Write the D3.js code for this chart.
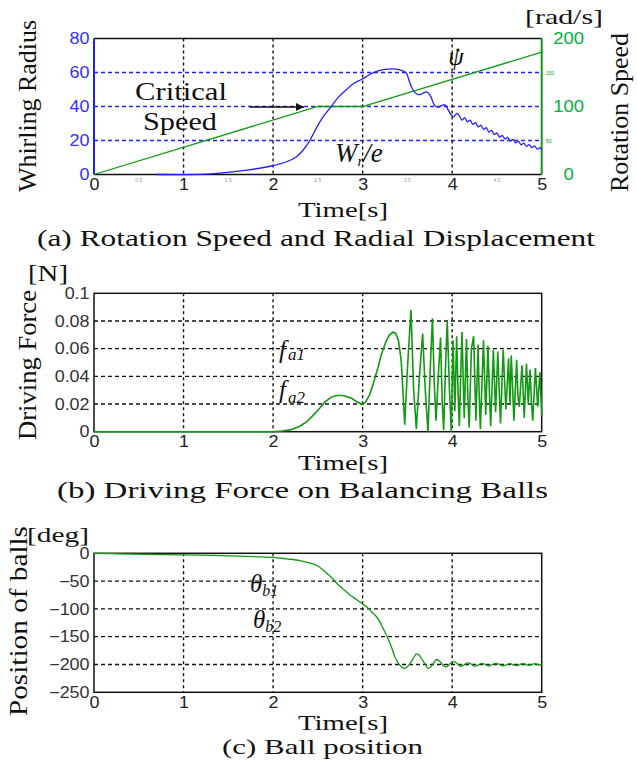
<!DOCTYPE html>
<html>
<head>
<meta charset="utf-8">
<script src="https://cdn.jsdelivr.net/npm/d3@7"></script>
<style>
  body { margin: 0; background: #fff; }
  svg text { font-family: "Liberation Serif", "Times New Roman", Times, serif; }
  .tick text { font-family: "Liberation Sans", Arial, Helvetica, sans-serif; font-size: 16px; }
</style>
</head>
<body>
<div id="chart"></div>
<script>
// tick values
var timeTicks = [0, 1, 2, 3, 4, 5];
var halfTicks = [0.5, 1.5, 2.5, 3.5, 4.5];
var radiusTicks = [0, 20, 40, 60, 80];
var speedTicks = [0, 100, 200];
var speedMinor = [50, 150];
var forceTicks = [0, 0.02, 0.04, 0.06, 0.08, 0.1];
var angleTicks = [0, -50, -100, -150, -200, -250];

// (a) rotation speed [rad/s]
var speedData = [[0, 0], [2.5, 100], [3, 100], [5, 180]];

// (a) whirling radius
var radiusData = [
  [0.70, 0], [1.26, 0.2], [1.48, 1.2], [1.71, 2.6], [1.98, 5], [2.15, 7.5], [2.25, 10],
  [2.33, 14], [2.40, 19], [2.48, 27], [2.56, 34], [2.65, 40], [2.73, 45.5], [2.82, 50],
  [2.90, 53.5], [2.99, 56], [3.07, 58.5], [3.15, 60.5], [3.22, 61.5], [3.29, 62], [3.37, 62],
  [3.45, 61], [3.49, 59.5], [3.52, 55], [3.56, 50], [3.60, 47.5], [3.64, 47], [3.68, 48],
  [3.72, 48.5], [3.76, 46], [3.80, 41], [3.84, 39.5], [3.88, 40.5], [3.92, 41], [3.95, 38.5],
  [3.99, 35], [4.02, 34], [4.05, 36], [4.08, 34.5], [4.11, 32], [4.14, 33.5], [4.17, 31],
  [4.20, 32], [4.23, 29.5], [4.26, 30.5], [4.29, 28], [4.32, 29], [4.35, 26.5], [4.38, 27.5],
  [4.41, 25], [4.44, 26], [4.47, 23.5], [4.50, 24.5], [4.53, 22], [4.56, 23], [4.59, 20.8],
  [4.62, 21.8], [4.65, 19.6], [4.68, 20.6], [4.71, 18.6], [4.74, 19.5], [4.77, 17.5],
  [4.80, 18.4], [4.83, 16.6], [4.86, 17.6], [4.89, 15.8], [4.92, 16.8], [4.95, 14.9],
  [4.98, 15.8], [5.0, 14.6]
];

// (b) driving force [N]
var forceData = [
  [0, 0], [2.0, 0], [2.1, 0.0005], [2.2, 0.0015], [2.3, 0.004], [2.38, 0.0075], [2.45, 0.012],
  [2.52, 0.017], [2.58, 0.0215], [2.65, 0.025], [2.71, 0.0262], [2.77, 0.0262], [2.82, 0.0255],
  [2.88, 0.024], [2.94, 0.0215], [2.99, 0.020], [3.03, 0.021], [3.08, 0.027], [3.12, 0.035],
  [3.17, 0.046], [3.21, 0.056], [3.26, 0.065], [3.30, 0.070], [3.34, 0.072], [3.37, 0.071],
  [3.40, 0.066], [3.43, 0.052], [3.45, 0.030], [3.47, 0.005], [3.50, 0.045], [3.54, 0.088],
  [3.57, 0.030], [3.60, 0.002], [3.635, 0.040], [3.67, 0.071], [3.70, 0.030], [3.73, 0.000],
  [3.755, 0.045], [3.78, 0.082], [3.80, 0.035], [3.82, 0.008], [3.845, 0.040], [3.87, 0.068],
  [3.89, 0.020], [3.905, 0.001], [3.925, 0.045], [3.945, 0.080], [3.97, 0.030], [3.99, 0.000],
  [4.01, 0.066], [4.03, 0.015], [4.05, 0.069], [4.065, 0.030], [4.08, 0.004], [4.095, 0.040],
  [4.11, 0.072], [4.135, 0.010], [4.16, 0.067], [4.175, 0.025], [4.19, 0.003], [4.215, 0.060],
  [4.24, 0.069], [4.265, 0.008], [4.29, 0.063], [4.30, 0.030], [4.315, 0.002], [4.35, 0.066],
  [4.375, 0.012], [4.40, 0.062], [4.415, 0.030], [4.43, 0.004], [4.46, 0.059], [4.485, 0.014],
  [4.51, 0.058], [4.525, 0.030], [4.54, 0.006], [4.57, 0.059], [4.60, 0.016], [4.63, 0.053],
  [4.645, 0.020], [4.66, 0.055], [4.69, 0.008], [4.72, 0.052], [4.735, 0.025], [4.75, 0.018],
  [4.78, 0.048], [4.805, 0.010], [4.83, 0.049], [4.85, 0.020], [4.87, 0.045], [4.885, 0.022],
  [4.90, 0.008], [4.93, 0.046], [4.955, 0.018], [4.98, 0.043], [5.0, 0.012]
];

// (c) ball position [deg]
var angleData = [
  [0, 0], [0.3, -1], [1.0, -3], [1.5, -4.5], [2.0, -7.5], [2.15, -10], [2.3, -13], [2.4, -17],
  [2.49, -22], [2.58, -33], [2.65, -43], [2.71, -54], [2.78, -64], [2.86, -75], [2.93, -83],
  [2.99, -90], [3.05, -97], [3.10, -105], [3.16, -115], [3.21, -129], [3.25, -142], [3.29, -156],
  [3.33, -172], [3.36, -186], [3.40, -198], [3.44, -205], [3.47, -207], [3.50, -204], [3.53, -198],
  [3.57, -188], [3.60, -181], [3.63, -183], [3.66, -190], [3.70, -200], [3.73, -207], [3.77, -203],
  [3.80, -195], [3.83, -191], [3.87, -196], [3.91, -203], [3.94, -204], [3.98, -198], [4.02, -195],
  [4.06, -199], [4.09, -203], [4.13, -201], [4.17, -197], [4.21, -199], [4.25, -203], [4.29, -201],
  [4.33, -198], [4.37, -200], [4.41, -203], [4.45, -200], [4.49, -198], [4.53, -200], [4.57, -202.5],
  [4.61, -200], [4.65, -198.5], [4.69, -201], [4.73, -202], [4.77, -199], [4.81, -199], [4.85, -201.5],
  [4.89, -200], [4.93, -198.5], [4.97, -200.5], [5.0, -200]
];

var W = 637, H = 760;
var blue = "#2020ff", green = "#119911", green2 = "#00b040";
var serif = "'Liberation Serif', 'Times New Roman', Times, serif";
var sans = "'Liberation Sans', Arial, Helvetica, sans-serif";
var sx = "scale(1.12,1)";

var svg = d3.select("#chart").append("svg")
  .attr("width", W).attr("height", H);
svg.append("rect").attr("width", W).attr("height", H).attr("fill", "#fff");

var x = d3.scaleLinear().domain([0, 5]).range([94, 541.7]);

function label(txt, px, py, size, len, opts) {
  opts = opts || {};
  var t = svg.append("text")
    .attr("x", px).attr("y", py)
    .style("font-family", serif)
    .attr("font-size", size)
    .attr("text-anchor", opts.anchor || "middle")
    .attr("fill", opts.fill || "#111")
    .text(txt);
  if (len) t.attr("textLength", len).attr("lengthAdjust", "spacingAndGlyphs");
  if (opts.rotate) t.attr("transform", "rotate(-90," + px + "," + py + ")");
  if (opts.italic) t.attr("font-style", "italic");
  return t;
}

function xAxis(top, bottom) {
  var g = svg.append("g").attr("transform", "translate(0," + bottom + ")")
    .call(d3.axisBottom(x).tickValues(timeTicks).tickSize(0).tickPadding(4).tickFormat(d3.format("d")));
  g.select(".domain").remove();
  g.selectAll("text").attr("fill", "#222").style("font-family", sans).attr("transform", sx);
  // vertical grid
  svg.append("g").selectAll("line").data(timeTicks.slice(1, 5)).join("line")
    .attr("x1", x).attr("x2", x).attr("y1", top).attr("y2", bottom)
    .attr("stroke", "#111").attr("stroke-width", 1.4).attr("stroke-dasharray", "3,3");
}

function hGrid(y, vals, color) {
  svg.append("g").selectAll("line").data(vals).join("line")
    .attr("x1", 94).attr("x2", 541.7).attr("y1", y).attr("y2", y)
    .attr("stroke", color).attr("stroke-width", 1.3).attr("stroke-dasharray", "4,3");
}

function yAxis(y, ticks, fmt, color) {
  var g = svg.append("g").attr("transform", "translate(94,0)")
    .call(d3.axisLeft(y).tickValues(ticks).tickSize(0).tickPadding(4).tickFormat(fmt));
  g.select(".domain").remove();
  g.selectAll("text").attr("fill", color).style("font-family", sans).attr("transform", sx);
}

// ---------- (a) ----------
var yR = d3.scaleLinear().domain([0, 80]).range([174.5, 38.5]);
var yS = d3.scaleLinear().domain([0, 200]).range([174.5, 38.5]);

hGrid(yR, [20, 40, 60], blue);
xAxis(38.5, 174.5);
yAxis(yR, radiusTicks, d3.format("d"), "#3030ff");

var gr = svg.append("g").attr("transform", "translate(541.7,0)")
  .call(d3.axisRight(yS).tickValues(speedTicks).tickSize(0).tickPadding(24).tickFormat(d3.format("d")));
gr.select(".domain").remove();
gr.selectAll("text").attr("fill", green2).attr("text-anchor", "middle")
  .style("font-family", sans).style("font-size", "16.5px").attr("transform", sx);

// tiny minor labels
svg.append("g").selectAll("text").data(halfTicks).join("text")
  .attr("x", x).attr("y", 182).attr("text-anchor", "middle").style("font-family", sans)
  .attr("font-size", 5).attr("fill", "#999").text(function(d) { return d; });
svg.append("g").selectAll("text").data(speedMinor).join("text")
  .attr("x", 546).attr("y", function(d) { return yS(d) + 2; }).style("font-family", sans)
  .attr("font-size", 5).attr("fill", green).text(function(d) { return d; });

// frame
svg.append("line").attr("x1", 94).attr("x2", 541.7).attr("y1", 38.5).attr("y2", 38.5).attr("stroke", "#111").attr("stroke-width", 1.5);
svg.append("line").attr("x1", 94).attr("x2", 541.7).attr("y1", 174.5).attr("y2", 174.5).attr("stroke", "#111").attr("stroke-width", 1.5);
svg.append("line").attr("x1", 94).attr("x2", 94).attr("y1", 38.5).attr("y2", 174.5).attr("stroke", blue).attr("stroke-width", 2);
svg.append("line").attr("x1", 541.7).attr("x2", 541.7).attr("y1", 38.5).attr("y2", 174.5).attr("stroke", green).attr("stroke-width", 2);

svg.append("path").datum(speedData)
  .attr("d", d3.line().x(function(d) { return x(d[0]); }).y(function(d) { return yS(d[1]); }))
  .attr("fill", "none").attr("stroke", green).attr("stroke-width", 1.3);
svg.append("path").datum(radiusData)
  .attr("d", d3.line().curve(d3.curveCatmullRom).x(function(d) { return x(d[0]); }).y(function(d) { return yR(d[1]); }))
  .attr("fill", "none").attr("stroke", blue).attr("stroke-width", 1.3);

// arrow to critical speed
svg.append("defs").append("marker").attr("id", "arr")
  .attr("viewBox", "0 0 10 10").attr("refX", 10).attr("refY", 5)
  .attr("markerWidth", 10).attr("markerHeight", 8).attr("markerUnits", "userSpaceOnUse")
  .attr("orient", "auto")
  .append("path").attr("d", "M0,0L10,5L0,10z").attr("fill", "#111");
svg.append("line").attr("x1", 250).attr("x2", 304).attr("y1", 107).attr("y2", 107)
  .attr("stroke", "#111").attr("stroke-width", 1.3).attr("marker-end", "url(#arr)");

label("Critical", 181, 100, 25, 92);
label("Speed", 180, 130, 25, 74);
label("\u03C8", 456, 65, 25, 0, { italic: true });
svg.append("circle").attr("cx", 458).attr("cy", 50).attr("r", 1.6).attr("fill", "#111");
var wr = label("", 335, 162, 27, 0, { anchor: "start", italic: true });
wr.append("tspan").text("W");
wr.append("tspan").attr("font-size", 15).attr("dy", 4).text("r");
wr.append("tspan").attr("dy", -4).text("/e");

label("Whirling Radius", 36, 106, 26, 172, { rotate: true });
label("Rotation Speed", 628, 112.5, 26, 159, { rotate: true });
label("[rad/s]", 564, 24, 22, 78);
label("Time[s]", 343, 217, 22, 90);
label("(a) Rotation Speed and Radial Displacement", 316, 246, 24, 558);

// ---------- (b) ----------
var yF = d3.scaleLinear().domain([0, 0.1]).range([431.7, 293.3]);
hGrid(yF, [0.02, 0.04, 0.06, 0.08], "#111");
xAxis(293.3, 431.7);
yAxis(yF, forceTicks, function(d) { return d === 0 ? "0" : d3.format("")(+d.toFixed(2)); }, "#333");
svg.append("rect").attr("x", 94).attr("y", 293.3).attr("width", 447.7).attr("height", 138.4)
  .attr("fill", "none").attr("stroke", "#111").attr("stroke-width", 1.5);
svg.append("path").datum(forceData)
  .attr("d", d3.line().x(function(d) { return x(d[0]); }).y(function(d) { return yF(d[1]); }))
  .attr("fill", "none").attr("stroke", green).attr("stroke-width", 1.6);

var f1 = label("", 279, 358, 25, 0, { anchor: "start", italic: true });
f1.append("tspan").text("f");
f1.append("tspan").attr("font-size", 17).attr("dx", 2).attr("dy", 2).text("a1");
var f2 = label("", 279, 398, 25, 0, { anchor: "start", italic: true });
f2.append("tspan").text("f");
f2.append("tspan").attr("font-size", 17).attr("dx", 2).attr("dy", 5).text("a2");

label("Driving Force", 36, 365, 26, 150, { rotate: true });
label("[N]", 48, 281, 24, 40);
label("Time[s]", 343, 470, 22, 90);
label("(b) Driving Force on Balancing Balls", 302.5, 498, 24, 491);

// ---------- (c) ----------
var yA = d3.scaleLinear().domain([-250, 0]).range([692.3, 553.3]);
hGrid(yA, [-50, -100, -150, -200], "#111");
xAxis(553.3, 692.3);
yAxis(yA, angleTicks, function(d) { return d < 0 ? "\u2212" + (-d) : "0"; }, "#333");
svg.append("rect").attr("x", 94).attr("y", 553.3).attr("width", 447.7).attr("height", 139)
  .attr("fill", "none").attr("stroke", "#111").attr("stroke-width", 1.5);
svg.append("path").datum(angleData)
  .attr("d", d3.line().curve(d3.curveCatmullRom).x(function(d) { return x(d[0]); }).y(function(d) { return yA(d[1]); }))
  .attr("fill", "none").attr("stroke", green).attr("stroke-width", 1.3);

var t1 = label("", 250, 592, 25, 0, { anchor: "start", italic: true });
t1.append("tspan").text("\u03B8");
t1.append("tspan").attr("font-size", 16).attr("dy", 4).text("b1");
var t2 = label("", 253, 628, 25, 0, { anchor: "start", italic: true });
t2.append("tspan").text("\u03B8");
t2.append("tspan").attr("font-size", 16).attr("dy", 4).text("b2");

label("Position of balls", 27, 621, 26, 190, { rotate: true });
label("[deg]", 58, 542, 22, 62);
label("Time[s]", 343, 730, 20, 90);
label("(c) Ball position", 322.5, 754, 22, 201);
</script>
</body>
</html>
